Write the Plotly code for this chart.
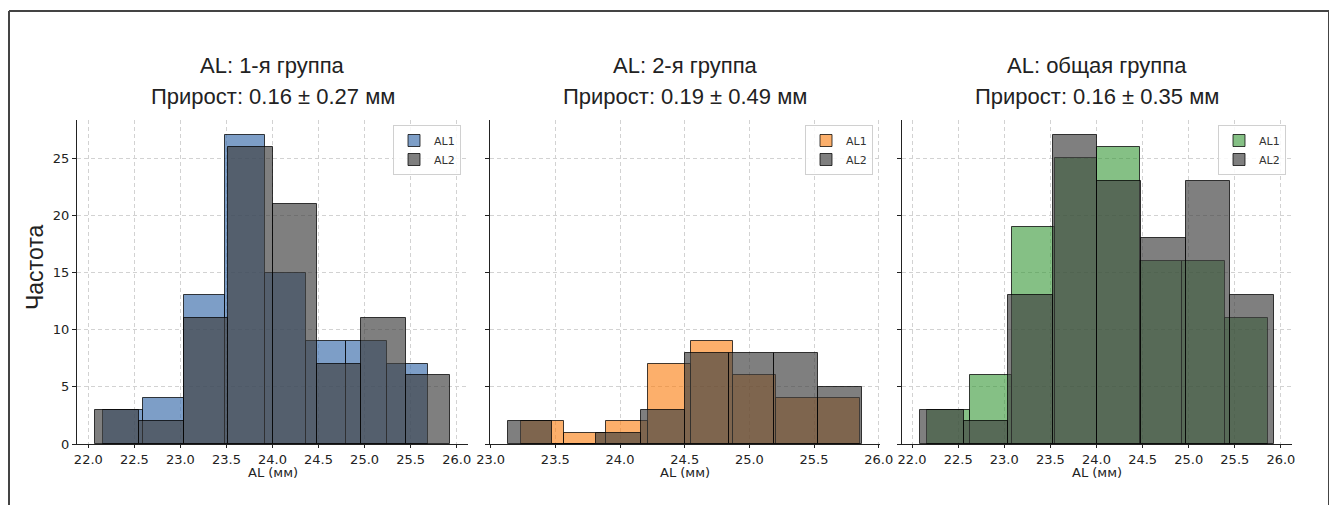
import numpy as np
import plotly.graph_objects as go

# ---------------- data ----------------
panel_titles = ["AL: 1-я группа", "AL: 2-я группа", "AL: общая группа"]
panel_subtitles = ["Прирост: 0.16 ± 0.27 мм", "Прирост: 0.19 ± 0.49 мм", "Прирост: 0.16 ± 0.35 мм"]
series_names = ["AL1", "AL2"]

# histogram bin range (first edge, last edge) and counts, 8 bins each
g1_al1_range = [22.156, 25.685]
g1_al1_counts = [3, 4, 13, 27, 15, 9, 9, 7]
g1_al2_range = [22.07, 25.93]
g1_al2_counts = [3, 2, 11, 26, 21, 7, 11, 6]

g2_al1_range = [23.238, 25.857]
g2_al1_counts = [2, 1, 2, 7, 9, 6, 4, 4]
g2_al2_range = [23.132, 25.873]
g2_al2_counts = [2, 0, 1, 3, 8, 8, 8, 5]

g3_al1_range = [22.163, 25.855]
g3_al1_counts = [3, 6, 19, 25, 26, 16, 16, 11]
g3_al2_range = [22.083, 25.928]
g3_al2_counts = [3, 2, 13, 27, 23, 18, 23, 13]

x_ticks = [[22.0, 22.5, 23.0, 23.5, 24.0, 24.5, 25.0, 25.5, 26.0],
           [23.0, 23.5, 24.0, 24.5, 25.0, 25.5, 26.0],
           [22.0, 22.5, 23.0, 23.5, 24.0, 24.5, 25.0, 25.5, 26.0]]
y_ticks = [0, 5, 10, 15, 20, 25]
x_label = "AL (мм)"
y_label = "Частота"

# ---------------- layout geometry ----------------
OFF = 8  # page body margin
W, H = 1337 - OFF, 505 - OFF
ML = 77 - OFF
MT = 120 - OFF
MB = H - (444 - OFF)
MR = W - (1292 - OFF)
PW = W - ML - MR
PH = H - MT - MB

def px(x):  # reference page pixel -> paper x
    return (x - OFF - ML) / PW

def py(y):  # reference page pixel -> paper y
    return (H - MB - (y - OFF)) / PH

domains = [[px(77), px(468)], [px(490), px(880)], [px(902), px(1292)]]
al1_colors = ["rgba(64,112,172,0.68)", "rgba(250,128,20,0.63)", "rgba(52,150,52,0.6)"]
al2_color = "rgba(64,64,64,0.67)"
edge = dict(color="rgba(0,0,0,0.75)", width=1)
tick_font = dict(family="DejaVu Sans", size=13, color="#222222")

panels = [
    (g1_al1_range, g1_al1_counts, g1_al2_range, g1_al2_counts),
    (g2_al1_range, g2_al1_counts, g2_al2_range, g2_al2_counts),
    (g3_al1_range, g3_al1_counts, g3_al2_range, g3_al2_counts),
]

fig = go.Figure()

def bars(rng, counts):
    edges = np.linspace(rng[0], rng[1], len(counts) + 1)
    centers = (edges[:-1] + edges[1:]) / 2
    widths = np.diff(edges)
    return centers, widths

ymax = max(max(max(p[1]) for p in panels), max(max(p[3]) for p in panels)) * 1.05

legend_names = ["legend", "legend2", "legend3"]
legend_right = [px(461), px(873), px(1286)]

layout_axes = {}
for i, (r1, c1, r2, c2) in enumerate(panels):
    xa = "x" if i == 0 else f"x{i+1}"
    ya = "y" if i == 0 else f"y{i+1}"
    cx1, w1 = bars(r1, c1)
    cx2, w2 = bars(r2, c2)
    fig.add_trace(go.Bar(x=cx1, y=c1, width=w1, name=series_names[0],
                         marker=dict(color=al1_colors[i], line=edge),
                         xaxis=xa, yaxis=ya, legend=legend_names[i]))
    fig.add_trace(go.Bar(x=cx2, y=c2, width=w2, name=series_names[1],
                         marker=dict(color=al2_color, line=edge),
                         xaxis=xa, yaxis=ya, legend=legend_names[i]))
    lo = min(r1[0], r2[0])
    hi = max(r1[1], r2[1])
    pad = (hi - lo) * 0.05
    xkey = "xaxis" if i == 0 else f"xaxis{i+1}"
    ykey = "yaxis" if i == 0 else f"yaxis{i+1}"
    layout_axes[xkey] = dict(
        domain=domains[i], anchor=ya, range=[lo - pad, hi + pad],
        tickvals=x_ticks[i], ticktext=[f"{t:.1f}" for t in x_ticks[i]],
        showgrid=True, gridcolor="#d2d2d2", griddash="4px,3px", gridwidth=1,
        showline=True, linecolor="#222222", linewidth=1.3,
        ticks="outside", ticklen=3, tickcolor="#222222",
        tickfont=tick_font, zeroline=False,
    )
    layout_axes[ykey] = dict(
        domain=[0, 1], anchor=xa, range=[0, ymax],
        tickvals=y_ticks, showticklabels=(i == 0),
        showgrid=True, gridcolor="#d2d2d2", griddash="4px,3px", gridwidth=1,
        showline=True, linecolor="#222222", linewidth=1.3,
        ticks="outside", ticklen=4, tickcolor="#222222",
        tickfont=tick_font, zeroline=False,
    )
    fig.layout[legend_names[i]] = dict(
        x=legend_right[i], y=py(125), xanchor="right", yanchor="top",
        bgcolor="rgba(255,255,255,0.85)", bordercolor="#d0d0d0", borderwidth=1,
        font=dict(family="DejaVu Sans", size=11, color="#333333"),
        itemwidth=30, tracegroupgap=0,
    )

annotations = []
title_font = dict(family="Liberation Sans", size=22, color="#222222")
for i in range(3):
    cx = (domains[i][0] + domains[i][1]) / 2
    annotations.append(dict(text=panel_titles[i], x=cx, y=py(66), xref="paper", yref="paper",
                            xanchor="center", yanchor="middle", showarrow=False, font=title_font))
    annotations.append(dict(text=panel_subtitles[i], x=cx, y=py(97), xref="paper", yref="paper",
                            xanchor="center", yanchor="middle", showarrow=False, font=title_font))
    annotations.append(dict(text=x_label, x=cx, y=py(472), xref="paper", yref="paper",
                            xanchor="center", yanchor="middle", showarrow=False,
                            font=dict(family="DejaVu Sans", size=13, color="#222222")))
annotations.append(dict(text=y_label, x=px(35), y=py(268), xref="paper", yref="paper",
                        xanchor="center", yanchor="middle", showarrow=False, textangle=-90,
                        font=dict(family="Liberation Sans", size=23, color="#222222")))

frame = dict(color="#444444", width=2)
shapes = [
    dict(type="line", xref="paper", yref="paper", x0=px(9), x1=px(1329), y0=py(11), y1=py(11), line=frame),
    dict(type="line", xref="paper", yref="paper", x0=px(9), x1=px(9), y0=py(11), y1=py(510), line=frame),
    dict(type="line", xref="paper", yref="paper", x0=px(1329), x1=px(1329), y0=py(11), y1=py(510), line=frame),
]

fig.update_layout(
    width=W, height=H, margin=dict(l=ML, r=MR, t=MT, b=MB),
    plot_bgcolor="white", paper_bgcolor="white",
    barmode="overlay", bargap=0, showlegend=True,
    annotations=annotations, shapes=shapes,
    **layout_axes,
)

fig.write_html("out.html")
